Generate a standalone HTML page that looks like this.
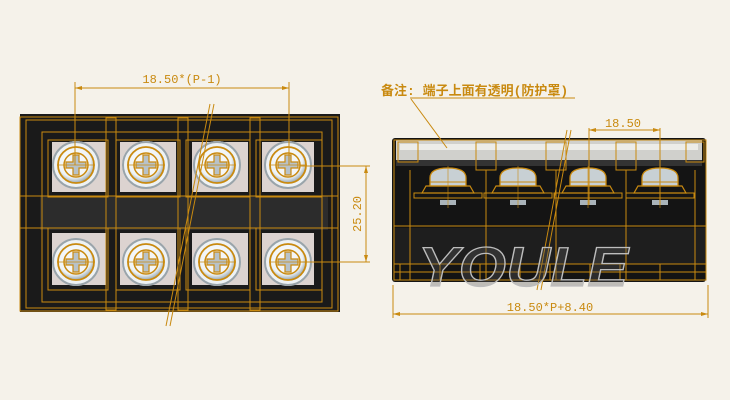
<!DOCTYPE html>
<html><head><meta charset="utf-8"><style>
html,body{margin:0;padding:0;background:#f5f2ea;}
svg{display:block}
text{font-family:"Liberation Mono","Noto Sans CJK SC",monospace;fill:#c98a10;}
</style></head><body>
<svg width="730" height="400" viewBox="0 0 730 400" xmlns="http://www.w3.org/2000/svg">
<rect width="730" height="400" fill="#f5f2ea"/>
<defs>
<radialGradient id="sg" cx="45%" cy="40%" r="60%"><stop offset="0" stop-color="#ffffff"/><stop offset="0.75" stop-color="#eef3f6"/><stop offset="1" stop-color="#9aa8b0"/></radialGradient>
<g id="screw">
<circle r="24" fill="#eef2f4"/>
<circle r="23" fill="none" stroke="#9aa4aa" stroke-width="2"/>
<circle r="18" fill="url(#sg)" stroke="#c98a10" stroke-width="1.8"/>
<circle r="12" fill="#f4f6f7" stroke="#c98a10" stroke-width="1.5"/>
<path d="M-3,-10 h6 v7 h7 v6 h-7 v7 h-6 v-7 h-7 v-6 h7z" fill="#b8c2c8" stroke="#c98a10" stroke-width="1.2"/>
<line x1="-19" y1="0" x2="19" y2="0" stroke="#c98a10" stroke-width="0.8"/>
</g>
<g id="clamp">
<path d="M-18,-18 q0,-10 18,-10 q18,0 18,10 v8 h-36z" fill="#c8d0d4" stroke="#c98a10" stroke-width="1.3"/>
<line x1="-18" y1="-14" x2="18" y2="-14" stroke="#c98a10"/>
<line x1="-18" y1="-10" x2="18" y2="-10" stroke="#c98a10"/>
<path d="M-26,-3 l4,-7 h44 l4,7 z" fill="none" stroke="#c98a10" stroke-width="1.2"/>
<rect x="-34" y="-3" width="68" height="5" fill="none" stroke="#c98a10"/>
<rect x="-8" y="4" width="16" height="5" fill="#aab4ba"/>
<line x1="0" y1="-30" x2="0" y2="12" stroke="#c98a10" stroke-width="0.6"/>
</g>
</defs>

<!-- LEFT VIEW -->
<rect x="20" y="114" width="320" height="198" fill="#1a1a1a"/>
<rect x="40" y="196" width="288" height="34" fill="#2c2c2c"/>
<g fill="#dcd3d0">
<rect x="52" y="142" width="54" height="50"/><rect x="120" y="142" width="56" height="50"/><rect x="192" y="142" width="56" height="50"/><rect x="262" y="142" width="52" height="50"/>
<rect x="52" y="233" width="54" height="52"/><rect x="120" y="233" width="56" height="52"/><rect x="192" y="233" width="56" height="52"/><rect x="262" y="233" width="52" height="52"/>
</g>
<use href="#screw" x="76" y="165"/><use href="#screw" x="146" y="165"/><use href="#screw" x="217" y="165"/><use href="#screw" x="288" y="165"/>
<use href="#screw" x="76" y="262"/><use href="#screw" x="146" y="262"/><use href="#screw" x="217" y="262"/><use href="#screw" x="288" y="262"/>
<g fill="none" stroke="#c98a10" stroke-width="1">
<rect x="20" y="117" width="318" height="194"/>
<rect x="26" y="120" width="306" height="188"/>
<rect x="42" y="132" width="280" height="170"/>
<rect x="48" y="140" width="60" height="57"/><rect x="116" y="140" width="64" height="57"/><rect x="186" y="140" width="64" height="57"/><rect x="256" y="140" width="66" height="57"/>
<rect x="48" y="228" width="60" height="62"/><rect x="116" y="228" width="64" height="62"/><rect x="186" y="228" width="64" height="62"/><rect x="256" y="228" width="66" height="62"/>
<rect x="106" y="118" width="10" height="192"/><rect x="178" y="118" width="10" height="192"/><rect x="250" y="118" width="10" height="192"/>
<line x1="20" y1="196" x2="338" y2="196"/><line x1="20" y1="228" x2="338" y2="228"/>
<line x1="210" y1="104" x2="166" y2="326"/><line x1="214" y1="104" x2="170" y2="326"/>
<line x1="75" y1="82" x2="75" y2="165"/><line x1="289" y1="82" x2="289" y2="165"/>
<line x1="75" y1="88" x2="289" y2="88"/>
<line x1="300" y1="166" x2="370" y2="166"/><line x1="300" y1="262" x2="370" y2="262"/>
<line x1="366" y1="166" x2="366" y2="262"/>
</g>
<path d="M75,88 l7,-2 v4z M289,88 l-7,-2 v4z M366,166 l-2,7 h4z M366,262 l-2,-7 h4z" fill="#c98a10"/>
<text x="182" y="83" font-size="12" text-anchor="middle">18.50*(P-1)</text>
<text x="0" y="0" font-size="12" text-anchor="middle" transform="translate(361,214) rotate(-90)">25.20</text>

<!-- RIGHT VIEW -->
<rect x="392" y="138" width="314" height="144" rx="3" fill="#141414"/>
<rect x="396" y="140" width="306" height="20" fill="#d0d0cc"/>
<rect x="400" y="144" width="298" height="6" fill="#ececE8"/>
<rect x="396" y="160" width="306" height="6" fill="#333"/>
<rect x="394" y="228" width="312" height="36" fill="#1e1e1e"/>
<use href="#clamp" x="448" y="196"/><use href="#clamp" x="518" y="196"/><use href="#clamp" x="588" y="196"/><use href="#clamp" x="660" y="196"/>
<g fill="none" stroke="#c98a10" stroke-width="1">
<rect x="394" y="140" width="312" height="140"/>
<line x1="394" y1="226" x2="706" y2="226"/><line x1="394" y1="264" x2="706" y2="264"/><line x1="394" y1="272" x2="706" y2="272"/>
<rect x="398" y="142" width="20" height="20"/><rect x="476" y="142" width="20" height="28"/><rect x="546" y="142" width="20" height="28"/><rect x="616" y="142" width="20" height="28"/><rect x="686" y="142" width="18" height="20"/>
<line x1="410" y1="170" x2="410" y2="280"/><line x1="486" y1="170" x2="486" y2="280"/><line x1="556" y1="170" x2="556" y2="280"/><line x1="626" y1="170" x2="626" y2="280"/><line x1="695" y1="170" x2="695" y2="280"/>
<rect x="400" y="264" width="40" height="16"/><rect x="480" y="264" width="40" height="16"/><rect x="550" y="264" width="40" height="16"/><rect x="620" y="264" width="40" height="16"/>
<line x1="567" y1="130" x2="537" y2="290"/><line x1="571" y1="130" x2="541" y2="290"/>
<line x1="410" y1="98" x2="575" y2="98"/><line x1="411" y1="99" x2="447" y2="148"/>
<line x1="589" y1="128" x2="589" y2="205"/><line x1="660" y1="128" x2="660" y2="205"/>
<line x1="589" y1="130" x2="660" y2="130"/>
<line x1="393" y1="285" x2="393" y2="318"/><line x1="708" y1="285" x2="708" y2="318"/>
<line x1="393" y1="314" x2="708" y2="314"/>
</g>
<path d="M589,130 l7,-2 v4z M660,130 l-7,-2 v4z M393,314 l7,-2 v4z M708,314 l-7,-2 v4z" fill="#c98a10"/>
<text x="418" y="286" font-size="56" font-style="italic" font-weight="bold" stroke="#bdbdbd" stroke-width="1.3" textLength="210" lengthAdjust="spacingAndGlyphs" style="fill:rgba(90,90,90,0.35);font-family:'Liberation Sans',sans-serif">YOULE</text>
<text x="381" y="95" font-size="13" font-weight="bold">备注: 端子上面有透明(防护罩)</text>
<text x="623" y="127" font-size="12" text-anchor="middle">18.50</text>
<text x="550" y="311" font-size="12" text-anchor="middle">18.50*P+8.40</text>
</svg>
</body></html>
